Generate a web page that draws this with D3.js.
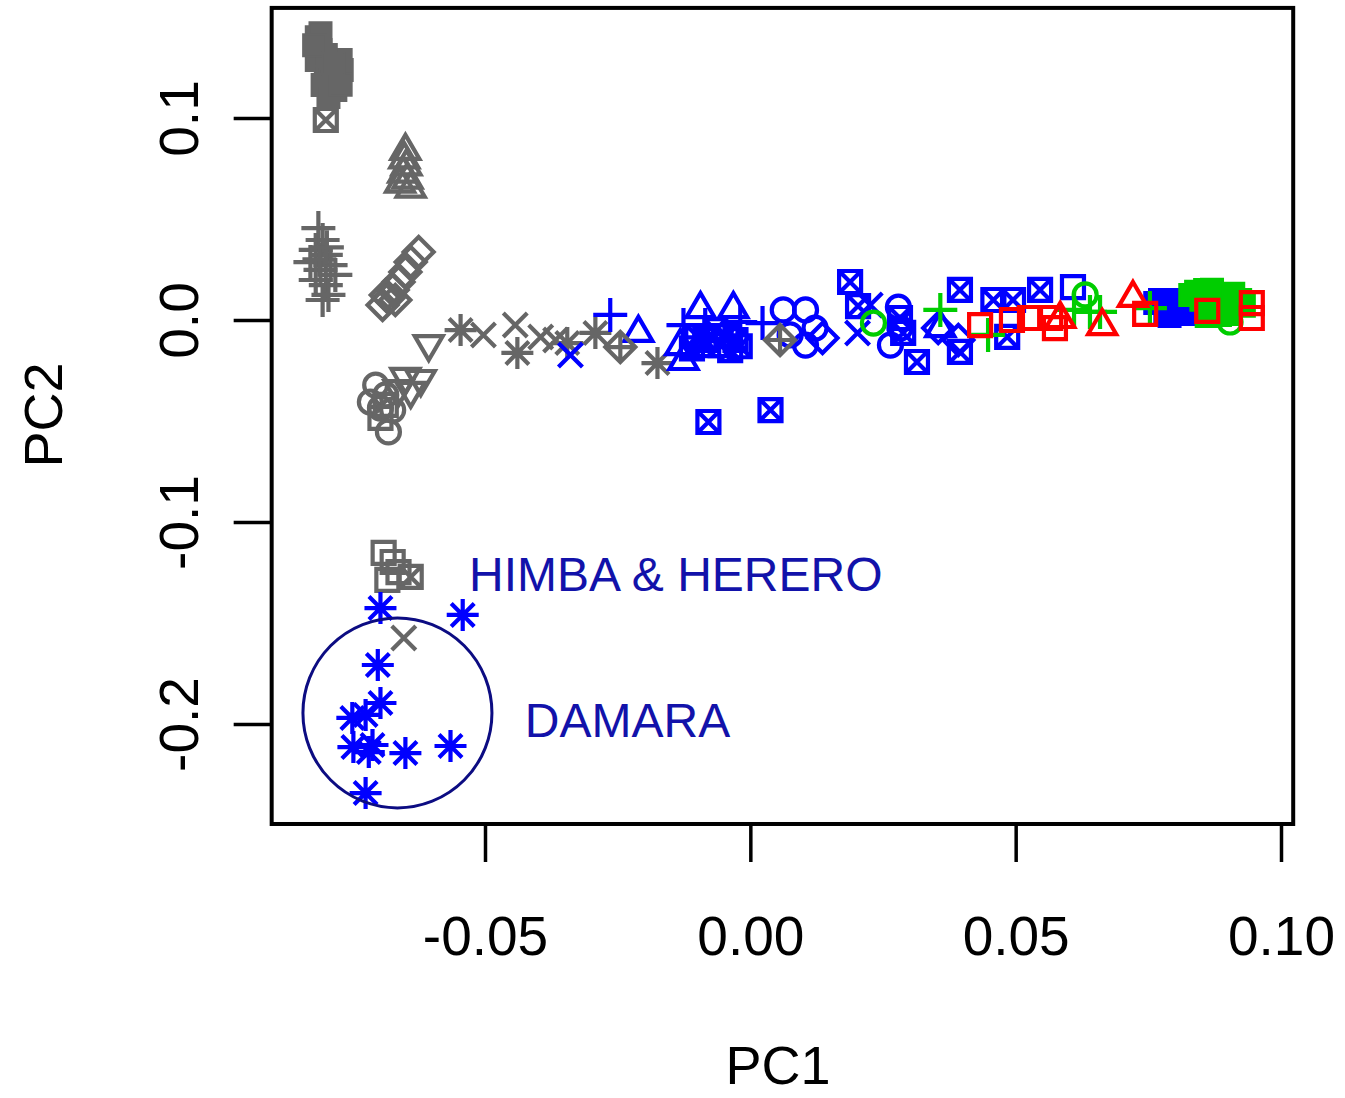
<!DOCTYPE html>
<meta charset="utf-8">
<title>PCA</title>
<body>
<script src="https://cdn.jsdelivr.net/npm/d3@7"></script>
<style>
html, body {
    margin: 0;
    background: #fff;
}
svg {
    display: block;
    font-family: "Liberation Sans", Arial, sans-serif;
}
</style>
<script>
// tick values
var xTicks = [-0.05, 0, 0.05, 0.10],
    xTickLabels = ["-0.05", "0.00", "0.05", "0.10"],
    yTicks = [-0.2, -0.1, 0, 0.1],
    yTickLabels = ["-0.2", "-0.1", "0.0", "0.1"];

// points, [PC1, PC2]
var grayFilledSq = [[-0.0817,0.1400],[-0.0810,0.1337],[-0.0817,0.1287],[-0.0800,0.1238],[-0.0791,0.1188],[-0.0782,0.1139],
    [-0.0770,0.1238],[-0.0772,0.1287],[-0.0806,0.1163],[-0.0795,0.1104],[-0.0810,0.1420],[-0.0800,0.1312],[-0.0772,0.1165],
    [-0.0822,0.1360],[-0.0785,0.1270]];
var grayBoxX = [[-0.0800,0.0990],[-0.0640,-0.1272]];
var grayTri = [[-0.0650,0.0842],[-0.0652,0.0800],[-0.0648,0.0765],[-0.0654,0.0730],[-0.0646,0.0700],[-0.0660,0.0680],[-0.0640,0.0655]];
var grayPlus = [[-0.0814,0.0455],[-0.0806,0.0396],[-0.0819,0.0347],[-0.0800,0.0322],[-0.0829,0.0287],[-0.0791,0.0272],
    [-0.0810,0.0248],[-0.0782,0.0223],[-0.0819,0.0198],[-0.0800,0.0173],[-0.0795,0.0124],[-0.0806,0.0099],
    [-0.0812,0.0300],[-0.0798,0.0360]];
var grayDiamond = [[-0.0693,0.0074],[-0.0682,0.0109],[-0.0674,0.0149],[-0.0663,0.0188],[-0.0650,0.0238],[-0.0640,0.0287],
    [-0.0625,0.0337],[-0.0687,0.0124],[-0.0669,0.0099]];
var grayDownTri = [[-0.0606,-0.0124],[-0.0650,-0.0287],[-0.0621,-0.0297],[-0.0663,-0.0347],[-0.0640,-0.0356]];
var grayCircle = [[-0.0706,-0.0322],[-0.0687,-0.0371],[-0.0716,-0.0406],[-0.0697,-0.0436],[-0.0674,-0.0446],[-0.0682,-0.0554]];
var graySquare = [[-0.0697,-0.0485],[-0.0687,-0.0420],[-0.0691,-0.1153],[-0.0674,-0.1198],[-0.0684,-0.1287],[-0.0663,-0.1248]];
var grayStar = [[-0.0546,-0.0050],[-0.0439,-0.0163],[-0.0345,-0.0114],[-0.0292,-0.0064],[-0.0175,-0.0213]];
var grayDiamondPlus = [[-0.0245,-0.0134],[0.0056,-0.0099]];
var grayX = [[-0.0503,-0.0074],[-0.0443,-0.0025],[-0.0395,-0.0084],[-0.0367,-0.0099],[-0.0653,-0.1574]];

var blueStar = [[-0.0697,-0.1426],[-0.0542,-0.1460],[-0.0702,-0.1708],[-0.0697,-0.1896],[-0.0750,-0.1970],[-0.0725,-0.1955],
    [-0.0748,-0.2114],[-0.0719,-0.2139],[-0.0712,-0.2104],[-0.0650,-0.2144],[-0.0565,-0.2109],[-0.0725,-0.2342]];
var bluePlus = [[-0.0264,0.0025],[-0.0126,-0.0025],[-0.0085,-0.0025],[-0.0019,-0.0010],[0.0023,-0.0015]];
var blueTri = [[-0.0211,-0.0059],[-0.0094,0.0059],[-0.0032,0.0059],[-0.0126,-0.0198],[-0.0094,-0.0134],[-0.0132,-0.0124],[0.0358,-0.0035]];
var blueX = [[-0.0339,-0.0173],[0.0202,-0.0064],[0.0226,0.0074]];
var blueCircle = [[0.0062,0.0050],[0.0104,0.0050],[0.0075,-0.0074],[0.0104,-0.0124],[0.0122,-0.0040],[0.0279,0.0064],[0.0264,-0.0124],[0.0282,-0.0040]];
var blueDiamond = [[0.0136,-0.0089],[0.0354,-0.0040],[0.0392,-0.0099]];
var blueBoxX = [[0.0188,0.0188],[0.0203,0.0069],[0.0288,-0.0064],[0.0314,-0.0208],[0.0395,0.0149],[0.0458,0.0099],
    [0.0495,0.0099],[0.0395,-0.0158],[0.0484,-0.0084],[0.0546,0.0149],[-0.0079,-0.0505],[0.0038,-0.0446],
    [-0.0085,-0.0099],[-0.0056,-0.0124],[-0.0028,-0.0099],[-0.0066,-0.0050],[-0.0038,-0.0149],[0.0282,0.0010],
    [-0.0100,-0.0080],[-0.0045,-0.0080],[-0.0020,-0.0130],[-0.0110,-0.0140]];
var blueSquare = [[0.0608,0.0163]];
var blueFilledSq = [[0.0772,0.0099],[0.0795,0.0059],[0.0814,0.0084],[0.0782,0.0040],[0.0829,0.0050],
    [0.0763,0.0084],[0.0800,0.0099],[0.0820,0.0030],[0.0790,0.0020]];

var greenPlus = [[0.0358,0.0050],[0.0448,-0.0074],[0.0640,0.0040],[0.0659,0.0040],[0.0753,0.0059],[0.0610,0.0050]];
var greenCircle = [[0.0232,-0.0015],[0.0631,0.0124],[0.0904,-0.0010]];
var greenFilledSq = [[0.0829,0.0124],[0.0857,0.0149],[0.0876,0.0124],[0.0895,0.0099],[0.0904,0.0050],[0.0866,0.0074],
    [0.0923,0.0099],[0.0885,0.0025],[0.0840,0.0140],[0.0850,0.0100],[0.0870,0.0150],[0.0910,0.0130],
    [0.0930,0.0070],[0.0900,0.0030],[0.0860,0.0020]];

var redSquare = [[0.0433,-0.0025],[0.0493,0.0000],[0.0565,0.0010],[0.0574,-0.0040],[0.0744,0.0030],[0.0861,0.0045],
    [0.0945,0.0084],[0.0945,0.0010],[0.0527,0.0010]];
var redTri = [[0.0721,0.0114],[0.0663,-0.0025],[0.0584,0.0010]];

// annotations
var circleCenter = [-0.0665, -0.1945],
    labels = [{text: "HIMBA & HERERO", at: [-0.0530, -0.1340]},
              {text: "DAMARA", at: [-0.0425, -0.2065]}];

var gray = "#666666", blue = "#0000ff", green = "#00cd00", red = "#ff0000";

var groups = [
    [grayFilledSq, "fsquare", gray], [grayBoxX, "boxx", gray], [grayTri, "tri", gray], [grayPlus, "plus", gray],
    [grayDiamond, "diamond", gray], [grayDownTri, "dtri", gray], [grayCircle, "circle", gray], [graySquare, "square", gray],
    [grayStar, "star", gray], [grayX, "x", gray],
    [blueStar, "star", blue], [blueTri, "tri", blue], [blueBoxX, "boxx", blue], [bluePlus, "plus", blue],
    [blueX, "x", blue], [blueCircle, "circle", blue], [blueDiamond, "diamond", blue], [blueSquare, "square", blue],
    [blueFilledSq, "fsquare", blue], [grayDiamondPlus, "dplus", gray],
    [greenCircle, "circle", green], [greenFilledSq, "fsquare", green], [greenPlus, "plus", green],
    [redSquare, "square", red], [redTri, "tri", red]
];

var shapes = {
    square: "M-11,-11h22v22h-22Z",
    fsquare: "M-11,-11h22v22h-22Z",
    boxx: "M-11,-11h22v22h-22Z M-11,-11L11,11M11,-11L-11,11",
    circle: "M11.5,0A11.5,11.5 0 1 1 -11.5,0A11.5,11.5 0 1 1 11.5,0Z",
    tri: "M0,-15L14,9L-14,9Z",
    dtri: "M0,15L14,-9L-14,-9Z",
    plus: "M-17,0H17M0,-17V17",
    x: "M-12,-12L12,12M12,-12L-12,12",
    star: "M-16,0H16M0,-16V16M-11.5,-11.5L11.5,11.5M11.5,-11.5L-11.5,11.5",
    diamond: "M0,-15L15,0L0,15L-15,0Z",
    dplus: "M0,-15L15,0L0,15L-15,0ZM-15,0H15M0,-15V15"
};

var width = 1345,
    height = 1098;

var x = d3.scaleLinear().domain([-0.05, 0.10]).range([485, 1281]),
    y = d3.scaleLinear().domain([-0.2, 0.1]).range([724, 118]);

var xLim = [-0.0902, 0.1023],
    yLim = [-0.2495, 0.1545];

var svg = d3.select("body").append("svg")
    .attr("width", width)
    .attr("height", height);

// points
groups.forEach(function(g) {
    var filled = g[1] == "fsquare";
    svg.append("g").selectAll("path")
        .data(g[0])
      .enter().append("path")
        .attr("transform", function(d) { return "translate(" + [x(d[0]), y(d[1])] + ")"; })
        .attr("d", shapes[g[1]])
        .attr("fill", filled ? g[2] : "none")
        .attr("stroke", g[2])
        .attr("stroke-width", filled ? 2 : 4.2);
});

// box
svg.append("rect")
    .attr("x", x(xLim[0]))
    .attr("y", y(yLim[1]))
    .attr("width", x(xLim[1]) - x(xLim[0]))
    .attr("height", y(yLim[0]) - y(yLim[1]))
    .attr("fill", "none")
    .attr("stroke", "#000")
    .attr("stroke-width", 4);

var xAxis = svg.append("g")
    .attr("transform", "translate(0," + y(yLim[0]) + ")")
    .call(d3.axisBottom(x).tickValues(xTicks).tickSize(38).tickPadding(54)
        .tickFormat(function(d, i) { return xTickLabels[i]; }));

var yAxis = svg.append("g")
    .attr("transform", "translate(" + x(xLim[0]) + ",0)")
    .call(d3.axisLeft(y).tickValues(yTicks).tickSize(38)
        .tickFormat(function(d, i) { return yTickLabels[i]; }));

[xAxis, yAxis].forEach(function(a) {
    a.select(".domain").remove();
    a.selectAll(".tick line").attr("stroke", "#000").attr("stroke-width", 3.5);
    a.selectAll(".tick text")
        .attr("fill", "#000")
        .style("font-size", "55px")
        .style("font-family", "'Liberation Sans', Arial, sans-serif");
});

yAxis.selectAll(".tick text")
    .attr("x", null)
    .attr("dy", null)
    .attr("text-anchor", "middle")
    .attr("transform", "translate(-74,0) rotate(-90)");

// axis titles
svg.append("text")
    .attr("x", 778)
    .attr("y", 1084)
    .attr("text-anchor", "middle")
    .style("font-size", "54px")
    .text("PC1");

svg.append("text")
    .attr("transform", "translate(62,415) rotate(-90)")
    .attr("text-anchor", "middle")
    .style("font-size", "54px")
    .text("PC2");

// annotations
svg.append("ellipse")
    .attr("cx", x(circleCenter[0]))
    .attr("cy", y(circleCenter[1]))
    .attr("rx", 94.5)
    .attr("ry", 95)
    .attr("fill", "none")
    .attr("stroke", "#0c0c82")
    .attr("stroke-width", 3);

svg.selectAll("text.note")
    .data(labels)
  .enter().append("text")
    .attr("class", "note")
    .attr("x", function(d) { return x(d.at[0]); })
    .attr("y", function(d) { return y(d.at[1]); })
    .attr("fill", "#1212aa")
    .style("font-size", "48px")
    .text(function(d) { return d.text; });
</script>
